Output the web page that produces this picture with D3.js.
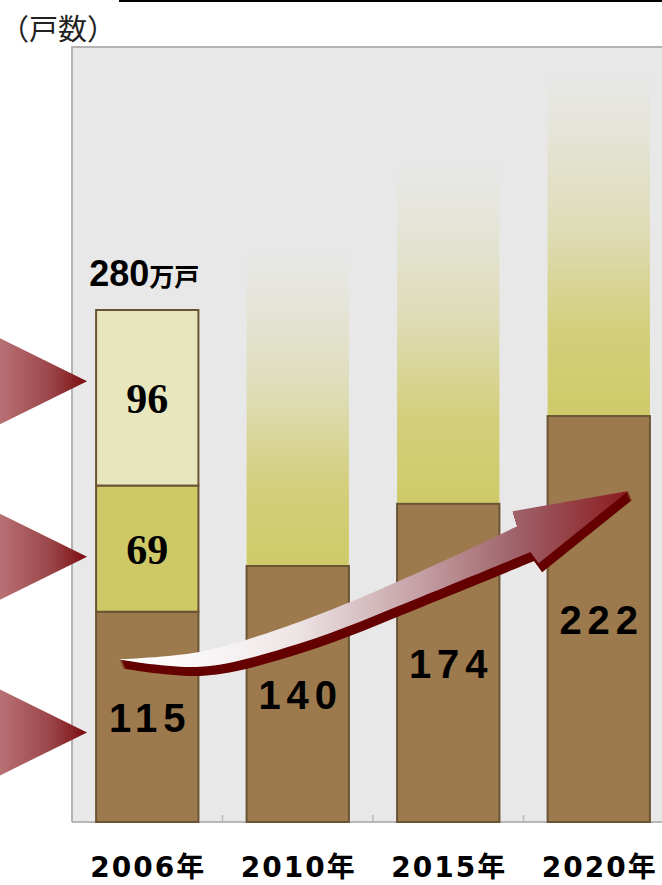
<!DOCTYPE html>
<html><head><meta charset="utf-8">
<script src="https://cdn.jsdelivr.net/npm/d3@7"></script>
<style>html,body{margin:0;padding:0;background:#fff;}svg{display:block;}</style>
</head><body>
<script>
// ---- data ----
const categories = ["2006年", "2010年", "2015年", "2020年"];
const baseValues = [115, 140, 174, 222];          // brown segment
const midValues = [69, null, null, null];          // olive segment
const topValues = [96, null, null, null];          // cream segment
const projectedTop = [null, 313, 360, 411];       // fading projection ceiling
const totalLabel = { value: "280", unit: "万戸" };
const yTitle = "（戸数）";
const pointerLevels = [241, 145, 49];             // values pointed at by the left markers

// ---- layout ----
const W = 662, H = 885;
const plot = { left: 72, right: 674, top: 47, bottom: 822 };

const svg = d3.select("body").append("svg").attr("width", W).attr("height", H);
const defs = svg.append("defs");

const x = d3.scaleBand().domain(categories).range([plot.left, plot.right])
  .paddingInner(0.32).paddingOuter(0.16);
const y = d3.scaleLinear().domain([0, 280]).range([plot.bottom, plot.bottom - 512]);
const bw = x.bandwidth();
const step = x.step();

const colors = { base: "#9c7a4e", mid: "#cec866", top: "#e8e6bd", edge: "#6b5434", bg: "#e8e8e8", fade: "#cfca68" };

// gradients
const fade = defs.append("linearGradient").attr("id", "fade").attr("x1", 0).attr("y1", 0).attr("x2", 0).attr("y2", 1);
[[0, 0], [0.15, 0.1], [0.45, 0.38], [0.75, 0.85], [1, 1]].forEach(([o, op]) =>
  fade.append("stop").attr("offset", o).attr("stop-color", colors.fade).attr("stop-opacity", op));

const tri = defs.append("linearGradient").attr("id", "tri").attr("x1", 0).attr("y1", 0).attr("x2", 1).attr("y2", 0);
tri.append("stop").attr("offset", 0).attr("stop-color", "#b87074");
tri.append("stop").attr("offset", 0.6).attr("stop-color", "#9a4448");
tri.append("stop").attr("offset", 1).attr("stop-color", "#7a0c0e");

// top rule & title
svg.append("line").attr("x1", 119).attr("x2", W).attr("y1", 1).attr("y2", 1)
  .attr("stroke", "#000").attr("stroke-width", 2);
svg.append("text").attr("x", 0).attr("y", 40).text(yTitle)
  .attr("font-family", "'Noto Sans CJK JP', sans-serif").attr("font-size", 29).attr("fill", "#222");

// plot background and frame
svg.append("rect").attr("x", plot.left).attr("y", plot.top)
  .attr("width", plot.right - plot.left).attr("height", plot.bottom - plot.top).attr("fill", colors.bg);
svg.append("path").attr("d", `M${plot.left},${plot.bottom}V${plot.top}H${plot.right}`)
  .attr("fill", "none").attr("stroke", "#b4b4b4").attr("stroke-width", 2);
svg.append("line").attr("x1", plot.left).attr("x2", plot.right).attr("y1", plot.bottom).attr("y2", plot.bottom)
  .attr("stroke", "#b8b8b8").attr("stroke-width", 2);
// boundary ticks
svg.selectAll(".btick").data(categories.slice(1)).join("line")
  .attr("x1", d => x(d) - (step - bw) / 2).attr("x2", d => x(d) - (step - bw) / 2)
  .attr("y1", plot.bottom).attr("y2", plot.bottom - 7).attr("stroke", "#b8b8b8").attr("stroke-width", 1.5);

// projection fades
const proj = categories.map((c, i) => ({ c, b: baseValues[i], t: projectedTop[i] })).filter(d => d.t != null);
svg.selectAll(".proj").data(proj).join("rect")
  .attr("x", d => x(d.c)).attr("width", bw)
  .attr("y", d => y(d.t)).attr("height", d => y(d.b) - y(d.t))
  .attr("fill", "url(#fade)");

// stacked segments
const segs = [];
categories.forEach((c, i) => {
  let acc = 0;
  [["base", baseValues[i]], ["mid", midValues[i]], ["top", topValues[i]]].forEach(([k, v]) => {
    if (v == null) return;
    segs.push({ c, k, v, y0: acc, y1: acc + v });
    acc += v;
  });
});
svg.selectAll(".seg").data(segs).join("rect")
  .attr("x", d => x(d.c)).attr("width", bw)
  .attr("y", d => y(d.y1)).attr("height", d => y(d.y0) - y(d.y1))
  .attr("fill", d => colors[d.k]).attr("stroke", colors.edge).attr("stroke-width", 2);

// segment labels
svg.selectAll(".segl").data(segs).join("text")
  .attr("x", d => x(d.c) + bw / 2 + (d.k === "base" ? 3 : 0))
  .attr("y", d => (y(d.y0) + y(d.y1)) / 2 + 15)
  .attr("text-anchor", "middle")
  .attr("font-family", d => d.k === "base" ? "'Liberation Sans', Arial, sans-serif" : "'Liberation Serif', serif")
  .attr("font-weight", "bold")
  .attr("font-size", d => d.k === "base" ? 40 : 42)
  .attr("letter-spacing", d => d.k === "base" ? 6 : 0)
  .attr("fill", "#000")
  .text(d => d.v);

// total label
const tl = svg.append("text").attr("x", x(categories[0]) + bw / 2 - 3).attr("y", y(280) - 24)
  .attr("text-anchor", "middle").attr("font-weight", "bold").attr("fill", "#000");
tl.append("tspan").attr("font-family", "'Liberation Sans', Arial, sans-serif").attr("font-size", 36).text(totalLabel.value);
tl.append("tspan").attr("font-family", "'Noto Sans CJK JP', sans-serif").attr("font-size", 25).text(totalLabel.unit);

// x labels
const xAxis = svg.append("g").attr("transform", `translate(0,${plot.bottom})`)
  .call(d3.axisBottom(x).tickSize(0).tickPadding(35));
xAxis.select(".domain").remove();
xAxis.selectAll("text")
  .attr("font-family", "'DejaVu Sans', 'Noto Sans CJK JP', sans-serif")
  .attr("font-weight", "bold").attr("font-size", 28).attr("letter-spacing", 2)
  .attr("dx", 1).attr("fill", "#000");

// left pointer triangles
svg.selectAll(".tri").data(pointerLevels).join("path")
  .attr("d", v => {
    const tipX = x(categories[0]) - 9, ty = y(v);
    return `M0,${ty - 43}L${tipX},${ty}L0,${ty + 43}Z`;
  })
  .attr("fill", "url(#tri)");

// growth arrow (anchored on data: 2006 ≈ 89, 2020 ≈ 181)
const T = [x(categories[0]) + bw * 0.215, y(89)];
const Hd = [x(categories[3]) + bw * 0.79, y(181)];
const P = ([a, b]) => [T[0] + a * (Hd[0] - T[0]), T[1] + b * (Hd[1] - T[1])];
const upper = [[0, 0], [0.161, 0.045], [0.357, 0.225], [0.592, 0.52], [0.782, 0.79]].map(P);
const head = [[0.773, 0.88], [1, 1], [0.824, 0.571]].map(P);
const lower = [[0.808, 0.637], [0.592, 0.369], [0.357, 0.095], [0.161, -0.045], [0, 0]].map(P);
const curve = d3.line().curve(d3.curveCatmullRom.alpha(0.5));
const arrowD = curve(upper) + head.map(p => `L${p[0]},${p[1]}`).join("") + curve(lower).replace(/^M/, "L") + "Z";

const ag = defs.append("linearGradient").attr("id", "arrowGrad").attr("gradientUnits", "userSpaceOnUse")
  .attr("x1", T[0]).attr("y1", 0).attr("x2", Hd[0]).attr("y2", 0);
[[0, "#ffffff"], [0.2, "#f8f4f5"], [0.35, "#ede4e5"], [0.6, "#c39da2"], [0.77, "#a0656c"], [1, "#8a1b1f"]]
  .forEach(([o, c]) => ag.append("stop").attr("offset", o).attr("stop-color", c));

const arrowG = svg.append("g");
d3.range(1, 10).forEach(k => arrowG.append("path").attr("d", arrowD)
  .attr("transform", `translate(${k * 0.4},${k})`).attr("fill", "#640000"));
arrowG.append("path").attr("d", arrowD).attr("fill", "url(#arrowGrad)");
</script>
</body></html>
